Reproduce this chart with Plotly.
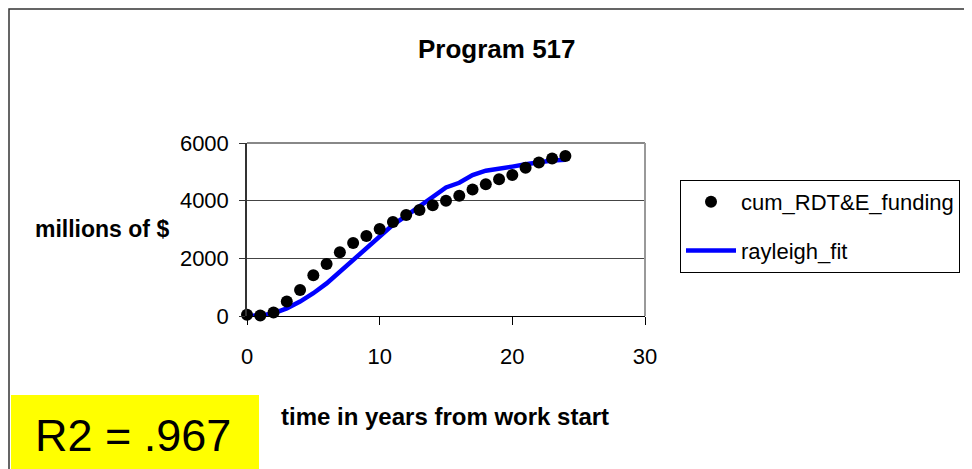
import plotly.graph_objects as go

# ---- data ----
years = list(range(0, 25))
cum_funding = [40, 20, 120, 500, 900, 1410, 1800, 2210, 2530, 2775, 3020, 3260,
               3500, 3680, 3840, 4000, 4170, 4390, 4570, 4740, 4890, 5140, 5320,
               5460, 5550]
fit_years = [0, 1, 2, 3, 4, 5, 6, 7, 8, 9, 10, 11, 12, 13, 14, 15, 16, 16.5,
             17, 18, 19, 20, 21, 22, 23, 24]
rayleigh_fit = [0, 20, 90, 265, 500, 790, 1130, 1540, 1940, 2350, 2750, 3160,
                3470, 3815, 4140, 4460, 4620, 4770, 4890, 5040, 5100, 5180,
                5260, 5330, 5390, 5420]
x_ticks = [0, 10, 20, 30]
y_ticks = [0, 2000, 4000, 6000]

title_text = "Program 517"
x_title = "time in years from work start"
y_title = "millions of $"
r2_text = "R2 = .967"

SANS = "Liberation Sans, Arial, sans-serif"

OFF = 8  # page body margin
W, H = 972, 469
# plot area in screen coords: x 247..645, y 143..316
PL, PR, PT, PB = 247, 645, 143, 316
L, T = PL - OFF, PT - OFF
PW, PH = PR - PL, PB - PT
R = W - L - PW
B = H - T - PH


def px(xs):
    return (xs - PL) / PW


def py(ys):
    return (PB - ys) / PH


fig = go.Figure()
fig.add_trace(go.Scatter(
    x=fit_years, y=rayleigh_fit, mode="lines", name="rayleigh_fit",
    line=dict(color="#0000FF", width=4.5), legendgroup="b", legendrank=2))
fig.add_trace(go.Scatter(
    x=years, y=cum_funding, mode="markers", name="cum_RDT&E_funding",
    marker=dict(color="black", size=12), legendgroup="a", legendrank=1,
    cliponaxis=False))

fig.update_layout(
    width=W, height=H,
    margin=dict(l=L, r=R, t=T, b=B, autoexpand=False),
    paper_bgcolor="white", plot_bgcolor="white",
    showlegend=True,
    legend=dict(x=px(680), y=py(180), xanchor="left", yanchor="top",
                bordercolor="black", borderwidth=1, bgcolor="white",
                font=dict(family=SANS, size=22, color="black"),
                traceorder="grouped", tracegroupgap=17, itemwidth=50),
    xaxis=dict(range=[0, 30], tickvals=x_ticks, ticks="outside", ticklen=8,
               tickcolor="black", showline=True, linecolor="black", linewidth=1,
               showgrid=False, zeroline=False, ticklabelstandoff=13,
               tickfont=dict(family=SANS, size=22, color="black")),
    yaxis=dict(range=[0, 6000], tickvals=y_ticks, ticks="outside", ticklen=6,
               tickcolor="#333", showline=True, linecolor="#333", linewidth=1.5,
               showgrid=True, gridcolor="#444", gridwidth=1, zeroline=False,
               ticklabelstandoff=6,
               tickfont=dict(family=SANS, size=22, color="black")),
    shapes=[
        # outer chart border (left and top edges visible)
        dict(type="rect", xref="paper", yref="paper",
             x0=px(OFF + 1), x1=px(1000), y0=py(500), y1=py(OFF + 1),
             line=dict(color="#333", width=1.5)),
        # plot frame top/right in gray
        dict(type="line", xref="paper", yref="paper", x0=0, x1=1, y0=1, y1=1,
             line=dict(color="#888", width=2)),
        dict(type="line", xref="paper", yref="paper", x0=1, x1=1, y0=0, y1=1,
             line=dict(color="#999", width=2)),
        # yellow R2 box
        dict(type="rect", xref="paper", yref="paper",
             x0=px(11), x1=px(259), y0=py(490), y1=py(395),
             fillcolor="#FFFF00", line=dict(width=0), layer="below"),
    ],
    annotations=[
        dict(text="<b>" + title_text + "</b>", xref="paper", yref="paper",
             x=px(497), y=py(49), showarrow=False,
             font=dict(family=SANS, size=26, color="black"),
             xanchor="center", yanchor="middle"),
        dict(text="<b>" + y_title + "</b>", xref="paper", yref="paper",
             x=px(102), y=py(229), showarrow=False,
             font=dict(family=SANS, size=23, color="black"),
             xanchor="center", yanchor="middle"),
        dict(text="<b>" + x_title + "</b>", xref="paper", yref="paper",
             x=px(445), y=py(416), showarrow=False,
             font=dict(family=SANS, size=24, color="black"),
             xanchor="center", yanchor="middle"),
        dict(text=r2_text, xref="paper", yref="paper", x=px(133), y=py(435),
             showarrow=False, font=dict(family=SANS, size=45, color="black"),
             xanchor="center", yanchor="middle"),
    ],
)

fig.write_html("out.html")
